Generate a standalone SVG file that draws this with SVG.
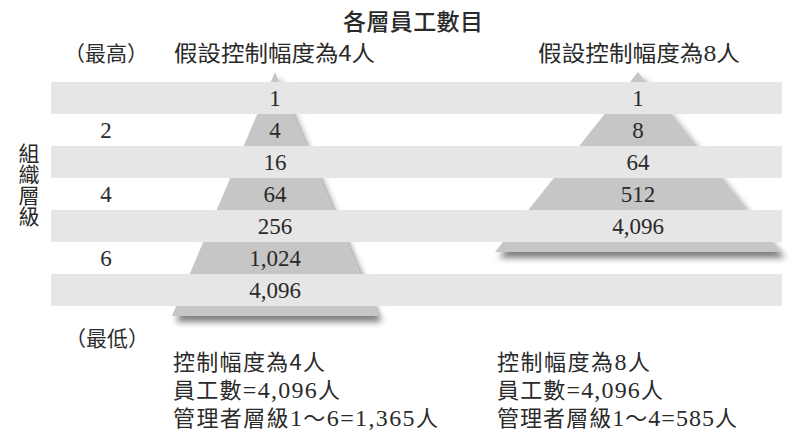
<svg xmlns="http://www.w3.org/2000/svg" width="800" height="447" viewBox="0 0 800 447">
<defs>
<filter id="sh" x="-20%" y="-20%" width="140%" height="140%">
<feDropShadow dx="4" dy="6" stdDeviation="3" flood-color="#000" flood-opacity="0.5"/>
</filter>
<style>
.band{fill:#e6e6e6}
.pyr{fill:#c6c6c6}
.cjk{font-family:"Noto Sans CJK TC","Noto Sans CJK JP",sans-serif;fill:#2a2a2a}
.num{font-family:"Liberation Serif","Noto Sans CJK TC",serif;font-size:23px;fill:#2a2a2a;text-anchor:middle}
.mix{font-family:"Liberation Serif","Noto Sans CJK TC",serif;font-size:22px;fill:#2a2a2a}
.d{font-size:24px}
</style>
</defs>
<rect width="800" height="447" fill="#fff"/>
<g id="pyramids">
<polygon id="pyramid-4" class="pyr" filter="url(#sh)" points="275,72 378,316 172,316"/>
<polygon id="pyramid-8" class="pyr" filter="url(#sh)" points="638,72 781,252 495,252"/>
</g>
<g id="bands">
<rect class="band" x="51" y="82" width="731" height="32"/>
<rect class="band" x="51" y="146" width="731" height="32"/>
<rect class="band" x="51" y="210" width="731" height="32"/>
<rect class="band" x="51" y="274" width="731" height="32"/>
</g>
<g id="title">
<text class="cjk" x="413" y="30" font-size="23" text-anchor="middle" textLength="140" font-weight="500">各層員工數目</text>
</g>
<g id="headers">
<text class="cjk" x="106" y="61" font-size="21" text-anchor="middle">（最高）</text>
<text class="cjk" x="107" y="346" font-size="21" text-anchor="middle">（最低）</text>
<text class="cjk" x="174" y="61" font-size="22" textLength="201" lengthAdjust="spacingAndGlyphs">假設控制幅度為4人</text>
<text class="cjk" x="538" y="61" font-size="22" textLength="202" lengthAdjust="spacingAndGlyphs">假設控制幅度為<tspan font-family="Liberation Serif" font-size="24">8</tspan>人</text>
</g>
<g id="axis">
<text class="cjk" x="29" y="143" font-size="21" style="writing-mode:vertical-rl">組織層級</text>
<text class="num" x="106" y="138">2</text>
<text class="num" x="106" y="202">4</text>
<text class="num" x="106" y="266">6</text>
</g>
<g id="left-values">
<text class="num" x="275" y="106">1</text>
<text class="num" x="275" y="138">4</text>
<text class="num" x="275" y="170">16</text>
<text class="num" x="275" y="202">64</text>
<text class="num" x="275" y="234">256</text>
<text class="num" x="275" y="266">1,024</text>
<text class="num" x="275" y="298">4,096</text>
</g>
<g id="right-values">
<text class="num" x="638" y="106">1</text>
<text class="num" x="638" y="138">8</text>
<text class="num" x="638" y="170">64</text>
<text class="num" x="638" y="202">512</text>
<text class="num" x="638" y="234">4,096</text>
</g>
<g id="summary-left">
<text class="mix" x="173" y="370" textLength="152">控制幅度為<tspan font-family="Noto Sans CJK TC">4</tspan>人</text>
<text class="mix" x="173" y="398" textLength="167">員工數<tspan class="d">=4,096</tspan>人</text>
<text class="mix" x="173" y="426" textLength="265">管理者層級<tspan class="d">1</tspan>～<tspan class="d">6=1,365</tspan>人</text>
</g>
<g id="summary-right">
<text class="mix" x="497" y="370" textLength="153">控制幅度為<tspan class="d">8</tspan>人</text>
<text class="mix" x="497" y="398" textLength="166">員工數<tspan class="d">=4,096</tspan>人</text>
<text class="mix" x="497" y="426" textLength="240">管理者層級<tspan class="d">1</tspan>～<tspan class="d">4=585</tspan>人</text>
</g>
</svg>
